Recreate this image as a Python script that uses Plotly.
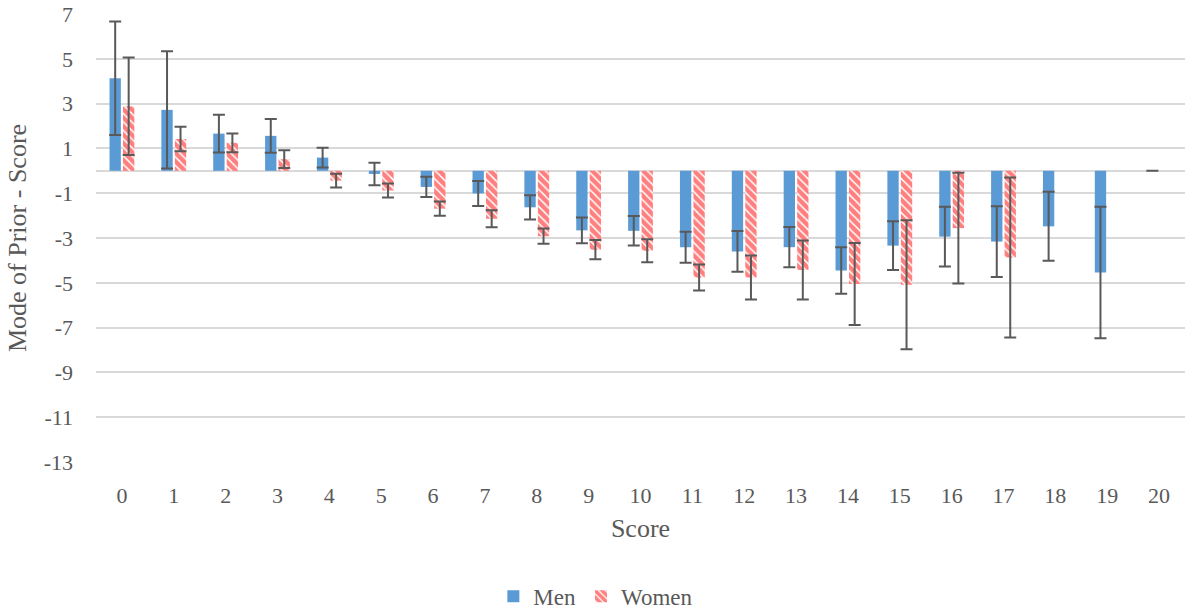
import plotly.graph_objects as go

scores = [str(i) for i in range(21)]
men = [4.13, 2.72, 1.66, 1.56, 0.59, -0.14, -0.72, -1.01, -1.63, -2.66, -2.68,
       -3.41, -3.60, -3.41, -4.45, -3.34, -2.94, -3.16, -2.48, -4.54, 0.0]
men_err = [2.53, 2.62, 0.84, 0.75, 0.44, 0.50, 0.45, 0.56, 0.54, 0.57, 0.66,
           0.69, 0.91, 0.90, 1.04, 1.09, 1.33, 1.58, 1.54, 2.93, 0.0]
women = [2.88, 1.42, 1.25, 0.52, -0.44, -0.88, -1.69, -2.14, -2.92, -3.52, -3.57,
         -4.76, -4.76, -4.43, -5.05, -5.09, -2.56, -3.87, None, None, None]
women_err = [2.18, 0.55, 0.42, 0.40, 0.31, 0.31, 0.32, 0.38, 0.34, 0.43, 0.51,
             0.58, 0.98, 1.32, 1.83, 2.88, 2.47, 3.57, None, None, None]
y_ticks = [7, 5, 3, 1, -1, -3, -5, -7, -9, -11, -13]

GRAY = "#595959"
FONT = "Liberation Serif"

fig = go.Figure()
fig.add_trace(go.Bar(
    name="Men", x=scores, y=men,
    marker=dict(color="#5B9BD5", line=dict(width=0)),
    error_y=dict(type="data", array=men_err, visible=True,
                 color=GRAY, thickness=2, width=6),
))
fig.add_trace(go.Bar(
    name="Women", x=scores, y=women,
    marker=dict(color="white", line=dict(width=0),
                pattern=dict(shape="\\", fgcolor="#FF0000", bgcolor="white",
                             size=6, solidity=0.75)),
    error_y=dict(type="data", array=women_err, visible=True,
                 color=GRAY, thickness=2, width=6),
))

fig.update_layout(
    width=1187, height=614,
    margin=dict(l=96, r=2, t=14, b=152, autoexpand=False),
    paper_bgcolor="white", plot_bgcolor="white",
    barmode="group", bargap=0.48, bargroupgap=0.16,
    font=dict(family=FONT, color=GRAY, size=22),
    showlegend=True,
    legend=dict(orientation="h", x=0.459, xanchor="center", y=-0.30, yanchor="middle",
                font=dict(family=FONT, size=23, color=GRAY), traceorder="normal",
                itemwidth=30),
    xaxis=dict(
        type="category", showgrid=False, showline=False, ticks="", automargin=False,
        tickfont=dict(family=FONT, size=22, color=GRAY), ticklabelstandoff=18,
        title=dict(text="Score", font=dict(family=FONT, size=26, color=GRAY), standoff=11),
    ),
    yaxis=dict(
        range=[-13, 7], tickvals=y_ticks, ticktext=[str(v) for v in y_ticks],
        showgrid=True, gridcolor="#D9D9D9", gridwidth=1.5, automargin=False,
        zeroline=True, zerolinecolor="#D9D9D9", zerolinewidth=1.5,
        showline=False, ticks="",
        tickfont=dict(family=FONT, size=22, color=GRAY), ticklabelstandoff=22,
        title=dict(text="Mode of Prior - Score", font=dict(family=FONT, size=26, color=GRAY), standoff=9),
    ),
)

fig.write_html("out.html", config={"displayModeBar": False},
               post_script="document.body.style.margin='0';document.body.style.overflow='hidden';")
